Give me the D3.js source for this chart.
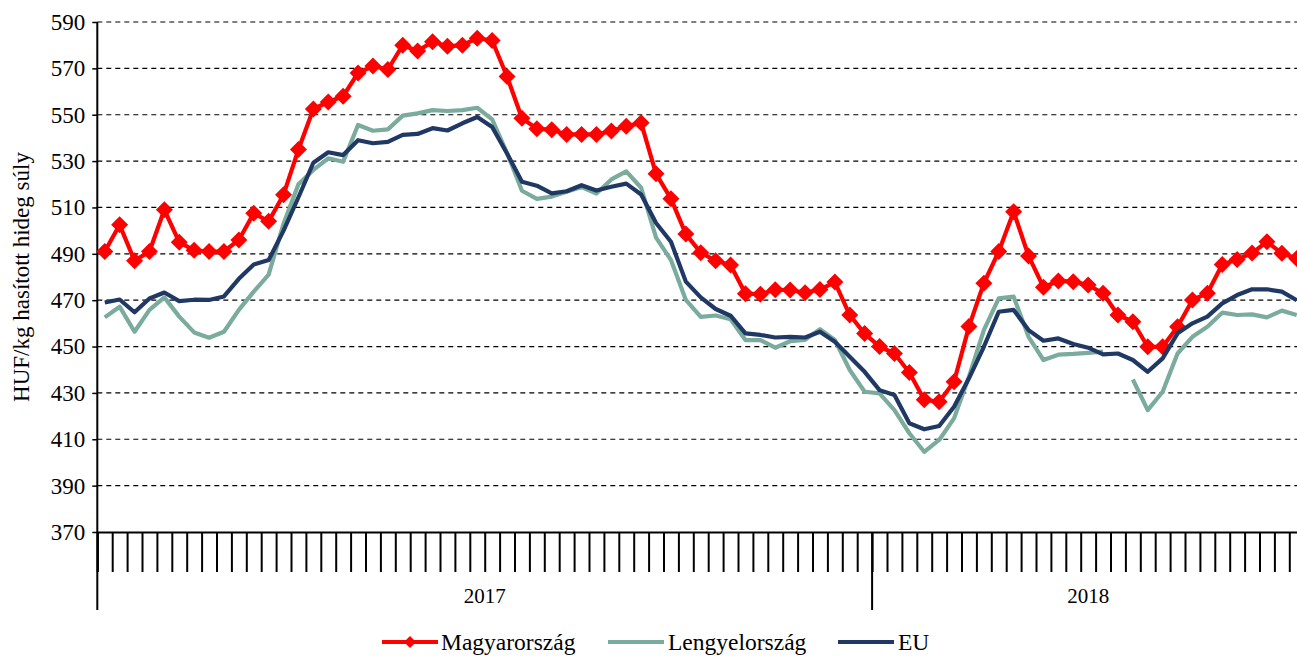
<!DOCTYPE html>
<html>
<head>
<meta charset="utf-8">
<script src="https://cdn.jsdelivr.net/npm/d3@7"></script>
<style>
  html, body { margin: 0; padding: 0; background: #fff; }
  svg { display: block; font-family: "Liberation Serif", "Times New Roman", serif; }
</style>
</head>
<body>
<svg id="chart" width="1297" height="657"></svg>
<script>
// ---- data ----
const years = ["2017", "2018"];
const weeksPerYear = [52, 29];
const categories = [];
years.forEach((yr, k) => { for (let w = 1; w <= weeksPerYear[k]; w++) categories.push(yr + "-" + String(w).padStart(2, "0")); });

const yTicks = [370, 390, 410, 430, 450, 470, 490, 510, 530, 550, 570, 590];

const magyarorszag = [491, 502.5, 487, 491, 509, 495, 491.5, 491, 491, 496,
  507.5, 504, 515.5, 535, 552.5, 555.5, 558, 568, 571, 569.5,
  580, 577.5, 581.5, 579.5, 580, 583, 582, 566.5, 548.5, 544,
  543.5, 541.5, 541.5, 541.5, 543, 545, 546.5, 524.5, 513.8, 498.5,
  490.5, 487, 485.2, 472.8, 472.6, 474.5, 474.4, 473.2, 474.6, 477.8,
  463.6, 455.6, 450, 447, 438.8, 427, 426.2, 434.8, 458.6, 477.3,
  491, 508.2, 489.1, 475.6, 478.3, 478, 476.5, 473, 463.6, 460.7,
  449.9, 449.9, 458.5, 470.1, 473, 485.4, 487.5, 490.3, 495.2, 490.2, 488];

const lengyelorszag = [462.6, 467.2, 456.4, 465.8, 471.2, 462.9, 456.1, 453.8, 456.4, 465.8,
  473.7, 481, 503, 520, 526.2, 531.2, 529.7, 545.6, 543.1, 543.7,
  549.6, 550.6, 552, 551.6, 552, 553, 548, 533.5, 517.2, 513.7,
  514.7, 516.8, 518.8, 516, 522.1, 525.6, 518.5, 497, 487.3, 470.1,
  462.8, 463.4, 461.8, 452.8, 452.8, 449.5, 452.3, 452.9, 457.5, 452.8,
  439.9, 430.5, 429.8, 422.6, 412.6, 404.6, 409.7, 419, 437, 457.1,
  470.8, 471.5, 454.2, 444.2, 446.5, 446.8, 447.3, 447.8, null, 435.8,
  422.6, 430.5, 447, 454.2, 458.5, 464.6, 463.6, 463.9, 462.6, 465.5, 463.6];

const eu = [469, 470.3, 464.8, 470.7, 473.3, 469.6, 470.2, 470.1, 471.6, 479.2,
  485.4, 487.3, 500, 514.4, 529.3, 533.8, 532.6, 539, 537.7, 538.3,
  541.3, 541.7, 544.2, 543.2, 546.3, 549, 544.7, 533.3, 521.1, 519.4,
  516.1, 517, 519.6, 517.3, 518.9, 520.3, 515.6, 503.3, 495.2, 478,
  471.2, 466.2, 463.3, 455.7, 455, 453.9, 454.2, 453.9, 456.4, 452.1,
  445.6, 439.1, 431.2, 429.1, 416.9, 414.3, 415.7, 424, 436.3, 449.9,
  465, 465.8, 457.1, 452.5, 453.5, 451.1, 449.5, 446.6, 447, 444.2,
  439.1, 444.9, 455.7, 460, 462.9, 468.6, 472.2, 474.7, 474.7, 473.7, 470];

const seriesNames = ["Magyarország", "Lengyelország", "EU"];
const yTitle = "HUF/kg hasított hideg súly";

// ---- layout ----
const svg = d3.select("#chart");
const mLeft = 97.3, mTop = 22, mBottom = 532;
const step = 14.9;
const mRight = mLeft + categories.length * step;

const x = d3.scaleBand().domain(categories).range([mLeft, mRight]).padding(0);
const xEdge = d3.scaleLinear().domain([0, categories.length]).range([mLeft, mRight]);
const y = d3.scaleLinear().domain([370, 590]).range([mBottom, mTop]);
const cx = c => x(c) + x.bandwidth() / 2;

// gridlines
svg.append("g").selectAll("line")
  .data(yTicks.filter(v => v > 370))
  .join("line")
  .attr("x1", mLeft).attr("x2", 1297)
  .attr("y1", d => y(d)).attr("y2", d => y(d))
  .attr("stroke", "#000").attr("stroke-width", 1.2)
  .attr("stroke-dasharray", "5,4");

// y axis
const yAxis = svg.append("g")
  .attr("transform", `translate(${mLeft},0)`)
  .call(d3.axisLeft(y).tickValues(yTicks).tickSize(5).tickSizeOuter(0).tickPadding(7));
yAxis.select(".domain").remove();
yAxis.selectAll("line").attr("stroke", "#000").attr("stroke-width", 1.5);
yAxis.selectAll("text").attr("font-size", 23).attr("fill", "#000")
  .attr("font-family", "Liberation Serif");
svg.append("line").attr("x1", mLeft).attr("x2", mLeft).attr("y1", mTop).attr("y2", 610)
  .attr("stroke", "#000").attr("stroke-width", 2);

// x axis (category boundary ticks)
const xAxis = svg.append("g")
  .attr("transform", `translate(0,${mBottom})`)
  .call(d3.axisBottom(xEdge).tickValues(d3.range(0, categories.length + 1)).tickSize(40).tickFormat(""));
xAxis.select(".domain").attr("stroke", "#000").attr("stroke-width", 2);
xAxis.selectAll("line").attr("stroke", "#000").attr("stroke-width", 2);

// year separators and labels
let acc = 0;
const yearBounds = years.map((yr, k) => { const s = acc; acc += weeksPerYear[k]; return { yr, s, e: acc }; });
svg.append("g").selectAll("line")
  .data(yearBounds.slice(1))
  .join("line")
  .attr("x1", d => xEdge(d.s)).attr("x2", d => xEdge(d.s))
  .attr("y1", mBottom).attr("y2", 610)
  .attr("stroke", "#000").attr("stroke-width", 2);
svg.append("g").selectAll("text")
  .data(yearBounds)
  .join("text")
  .attr("x", d => (xEdge(d.s) + xEdge(d.e)) / 2)
  .attr("y", 603)
  .attr("text-anchor", "middle")
  .attr("font-size", 21)
  .text(d => d.yr);

// y title
svg.append("text")
  .attr("transform", "translate(29,277) rotate(-90)")
  .attr("text-anchor", "middle")
  .attr("font-size", 23)
  .text(yTitle);

// lines
const colors = ["#FF0000", "#7AAB9D", "#1F3864"];
const lineGen = d3.line()
  .defined(d => d.v != null)
  .x(d => cx(d.c)).y(d => y(d.v));
const allSeries = [magyarorszag, lengyelorszag, eu].map((arr, k) => ({
  name: seriesNames[k], color: colors[k],
  pts: arr.map((v, i) => ({ c: categories[i], v }))
}));

const plot = svg.append("g");
allSeries.forEach((s, k) => {
  plot.append("path").datum(s.pts)
    .attr("fill", "none").attr("stroke", s.color).attr("stroke-width", 4.2)
    .attr("stroke-linejoin", "round")
    .attr("d", lineGen);
  if (k === 0) {
    plot.append("g").selectAll("path")
      .data(s.pts.filter(d => d.v != null))
      .join("path")
      .attr("transform", d => `translate(${cx(d.c)},${y(d.v)})`)
      .attr("d", "M0,-8.5L8.5,0L0,8.5L-8.5,0Z")
      .attr("fill", s.color);
  }
});

// legend
const legendItems = [
  { lx: 382, tx: 441 },
  { lx: 608, tx: 668 },
  { lx: 838, tx: 898 }
];
const lg = svg.append("g");
allSeries.forEach((s, k) => {
  const L = legendItems[k];
  const ly = 642;
  lg.append("line").attr("x1", L.lx).attr("x2", L.lx + 56).attr("y1", ly).attr("y2", ly)
    .attr("stroke", s.color).attr("stroke-width", 4.2);
  if (k === 0) {
    lg.append("path").attr("transform", `translate(${L.lx + 28},${ly})`)
      .attr("d", "M0,-6L6,0L0,6L-6,0Z").attr("fill", s.color);
  }
  lg.append("text").attr("x", L.tx).attr("y", ly + 8).attr("font-size", 23.5).text(s.name);
});
</script>
</body>
</html>
